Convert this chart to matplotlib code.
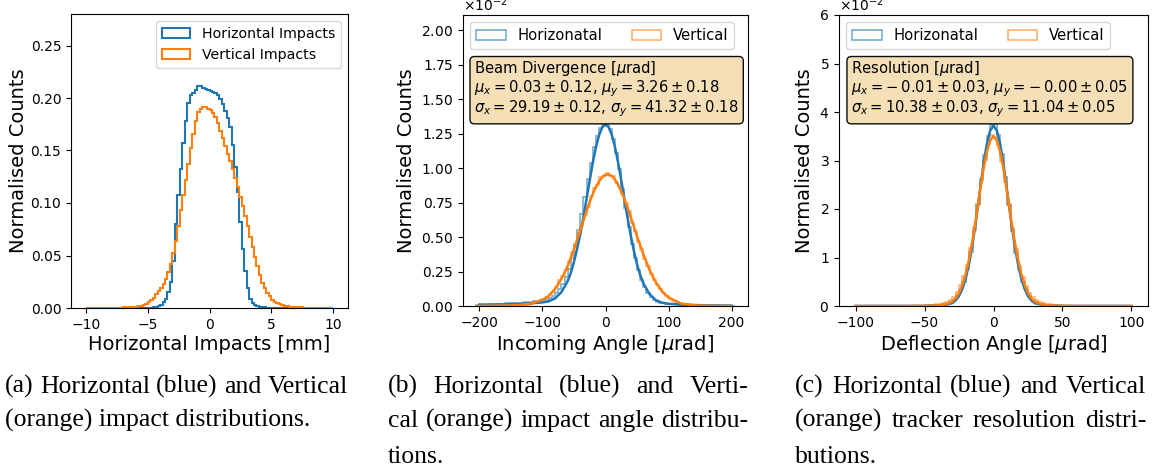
import numpy as np
import matplotlib
matplotlib.use("Agg")
import matplotlib.pyplot as plt

# ---- (a) impact distributions, density per 0.2 mm bin (centres -9.9 ... 9.9) ----
impact_edges = np.linspace(-10, 10, 101)
impact_h = [
    0, 0, 0, 0, 0, 0, 0, 0, 0, 0,                                                   # -9.9 .. -8.1
    0, 0, 0, 0, 0, 0, 0, 0, 0, 0,                                                   # -7.9 .. -6.1
    0, 0, 0, 0, 0, 0.0002, 0.0004, 0.0007, 0.001, 0.0016,                           # -5.9 .. -4.1
    0.003, 0.006, 0.009, 0.015, 0.025, 0.045, 0.080, 0.108, 0.132, 0.157,           # -3.9 .. -2.1
    0.178, 0.195, 0.203, 0.205, 0.208, 0.211, 0.211, 0.210, 0.209, 0.208,           # -1.9 .. -0.1
    0.207, 0.206, 0.205, 0.203, 0.199, 0.194, 0.188, 0.181, 0.172, 0.155,           # 0.1 .. 1.9
    0.134, 0.110, 0.082, 0.056, 0.035, 0.019, 0.009, 0.005, 0.003, 0.002,           # 2.1 .. 3.9
    0.0014, 0.001, 0.0007, 0.0004, 0.0002, 0, 0, 0, 0, 0,                           # 4.1 .. 5.9
    0, 0, 0, 0, 0, 0, 0, 0, 0, 0,                                                   # 6.1 .. 7.9
    0, 0, 0, 0, 0, 0, 0, 0, 0, 0,                                                   # 8.1 .. 9.9
]
impact_v = [
    0.0002, 0.0002, 0.0002, 0.0002, 0.0002, 0.0002, 0.0002, 0.0002, 0.0002, 0.0002,
    0.0003, 0.0003, 0.0003, 0.0004, 0.0004, 0.0005, 0.0005, 0.0006, 0.0008, 0.001,
    0.0012, 0.0015, 0.002, 0.0028, 0.004, 0.0055, 0.0075, 0.010, 0.013, 0.016,
    0.019, 0.023, 0.028, 0.034, 0.042, 0.052, 0.064, 0.078, 0.093, 0.108,
    0.122, 0.137, 0.152, 0.166, 0.178, 0.187, 0.190, 0.191, 0.191, 0.190,
    0.189, 0.186, 0.182, 0.176, 0.169, 0.162, 0.154, 0.147, 0.140, 0.132,
    0.124, 0.115, 0.106, 0.097, 0.088, 0.078, 0.068, 0.058, 0.049, 0.040,
    0.031, 0.024, 0.019, 0.014, 0.011, 0.008, 0.006, 0.0045, 0.0035, 0.0027,
    0.002, 0.0016, 0.0013, 0.001, 0.0008, 0.0006, 0.0005, 0.0005, 0.0004, 0.0004,
    0.0003, 0.0003, 0.0003, 0.0002, 0.0002, 0.0002, 0.0002, 0.0002, 0.0002, 0.0002,
]

# ---- (b) incoming angle, units of 1e-2 per 5 urad bin ----
angle_edges = np.linspace(-205, 205, 83)
angle_h = [
    0.010, 0.011, 0.012, 0.013, 0.014, 0.015, 0.016, 0.017, 0.018, 0.019,
    0.020, 0.021, 0.022, 0.024, 0.025, 0.027, 0.029, 0.031, 0.033, 0.035,
    0.038, 0.042, 0.048, 0.058, 0.072, 0.092, 0.120, 0.160, 0.210, 0.270,
    0.350, 0.440, 0.550, 0.670, 0.790, 0.920, 1.040, 1.150, 1.230, 1.290,
    1.320,
    1.310, 1.280, 1.210, 1.110, 0.990, 0.850, 0.710, 0.570, 0.450, 0.350,
    0.260, 0.190, 0.135, 0.095, 0.065, 0.045, 0.032, 0.024, 0.019, 0.016,
    0.014, 0.012, 0.011, 0.010, 0.009, 0.008, 0.007, 0.006, 0.006, 0.005,
    0.005, 0.004, 0.004, 0.004, 0.003, 0.003, 0.003, 0.002, 0.002, 0.002,
    0.002,
]
angle_v = [
    0.001, 0.001, 0.001, 0.001, 0.001, 0.001, 0.002, 0.002, 0.002, 0.002,
    0.003, 0.003, 0.004, 0.005, 0.006, 0.008, 0.010, 0.014, 0.019, 0.026,
    0.036, 0.052, 0.068, 0.085, 0.105, 0.141, 0.185, 0.220, 0.262, 0.324,
    0.392, 0.449, 0.527, 0.579, 0.663, 0.715, 0.800, 0.852, 0.880, 0.935,
    0.946,
    0.962, 0.945, 0.940, 0.890, 0.862, 0.815, 0.744, 0.690, 0.600, 0.545,
    0.462, 0.410, 0.342, 0.290, 0.230, 0.192, 0.150, 0.122, 0.091, 0.071,
    0.053, 0.039, 0.029, 0.021, 0.015, 0.011, 0.008, 0.006, 0.004, 0.003,
    0.003, 0.002, 0.002, 0.002, 0.001, 0.001, 0.001, 0.001, 0.001, 0.001,
    0.001,
]
angle_fit_x = [-200, -180, -160, -140, -120, -100, -90, -80, -70, -60,
               -55, -50, -45, -40, -35, -30, -25, -20, -15, -10, -5, 0,
               5, 10, 15, 20, 25, 30, 35, 40, 45, 50, 55, 60,
               70, 80, 90, 100, 120, 140, 160, 180, 200]
angle_fit_h = [0.008, 0.010, 0.012, 0.015, 0.019, 0.026, 0.034, 0.055, 0.100, 0.180,
               0.240, 0.320, 0.415, 0.520, 0.645, 0.778, 0.912, 1.043, 1.155, 1.242, 1.297, 1.316,
               1.297, 1.241, 1.153, 1.040, 0.911, 0.773, 0.638, 0.512, 0.399, 0.302, 0.225, 0.165,
               0.085, 0.042, 0.024, 0.016, 0.010, 0.007, 0.005, 0.004, 0.003]
angle_fit_v = [0.001, 0.002, 0.003, 0.006, 0.016, 0.045, 0.073, 0.125, 0.195, 0.290,
               0.350, 0.410, 0.480, 0.550, 0.620, 0.690, 0.755, 0.815, 0.865, 0.905, 0.935, 0.952,
               0.954, 0.943, 0.917, 0.880, 0.830, 0.775, 0.710, 0.645, 0.575, 0.505, 0.440, 0.375,
               0.260, 0.170, 0.105, 0.062, 0.018, 0.005, 0.002, 0.001, 0.0005]

# ---- (c) deflection angle, units of 1e-2 per 2.5 urad bin ----
defl_edges = np.linspace(-100, 100, 81)
defl_h = [
    0.0001, 0.0001, 0.0001, 0.0002, 0.0002, 0.0002, 0.0003, 0.0003, 0.0004, 0.0005,
    0.0006, 0.0008, 0.001, 0.0012, 0.0015, 0.002, 0.0025, 0.003, 0.004, 0.005,
    0.007, 0.009, 0.013, 0.018, 0.026, 0.036, 0.05, 0.08, 0.13, 0.21,
    0.33, 0.50, 0.76, 1.11, 1.57, 2.10, 2.62, 3.12, 3.50, 3.74,
    3.76, 3.53, 3.14, 2.65, 2.08, 1.55, 1.09, 0.74, 0.49, 0.32,
    0.20, 0.125, 0.078, 0.05, 0.034, 0.024, 0.017, 0.012, 0.009, 0.007,
    0.005, 0.004, 0.003, 0.0025, 0.002, 0.0015, 0.0012, 0.001, 0.0008, 0.0006,
    0.0005, 0.0004, 0.0003, 0.0003, 0.0002, 0.0002, 0.0002, 0.0001, 0.0001, 0.0001,
]
defl_v = [
    0.0003, 0.0003, 0.0004, 0.0004, 0.0005, 0.0006, 0.0007, 0.0008, 0.0009, 0.001,
    0.0013, 0.0016, 0.002, 0.0025, 0.003, 0.004, 0.005, 0.006, 0.008, 0.010,
    0.014, 0.019, 0.026, 0.035, 0.047, 0.065, 0.09, 0.13, 0.19, 0.28,
    0.43, 0.61, 0.85, 1.20, 1.63, 2.08, 2.58, 3.01, 3.34, 3.52,
    3.48, 3.31, 2.99, 2.56, 2.10, 1.61, 1.18, 0.83, 0.59, 0.41,
    0.27, 0.185, 0.125, 0.088, 0.063, 0.046, 0.034, 0.025, 0.018, 0.014,
    0.010, 0.008, 0.006, 0.005, 0.004, 0.003, 0.0025, 0.002, 0.0016, 0.0013,
    0.001, 0.0009, 0.0008, 0.0007, 0.0006, 0.0005, 0.0004, 0.0004, 0.0003, 0.0003,
]
defl_fit_x = [-100, -80, -60, -50, -40, -35, -30, -27.5, -25, -22.5, -20, -17.5, -15,
              -12.5, -10, -7.5, -5, -2.5, 0, 2.5, 5, 7.5, 10, 12.5, 15, 17.5, 20,
              22.5, 25, 27.5, 30, 35, 40, 50, 60, 80, 100]
defl_fit_h = [0.0001, 0.0003, 0.001, 0.003, 0.008, 0.02, 0.058, 0.113, 0.206, 0.357, 0.585, 0.902, 1.313,
              1.799, 2.344, 2.869, 3.314, 3.614, 3.72, 3.614, 3.314, 2.869, 2.344, 1.799, 1.313, 0.902, 0.585,
              0.357, 0.206, 0.113, 0.058, 0.02, 0.008, 0.003, 0.001, 0.0003, 0.0001]
defl_fit_v = [0.0002, 0.0005, 0.0015, 0.004, 0.012, 0.03, 0.087, 0.157, 0.270, 0.439, 0.678, 0.996, 1.39,
              1.84, 2.32, 2.78, 3.16, 3.41, 3.50, 3.41, 3.16, 2.78, 2.32, 1.84, 1.39, 0.996, 0.678,
              0.439, 0.270, 0.157, 0.087, 0.03, 0.012, 0.004, 0.0015, 0.0005, 0.0002]

angle_text = ("Beam Divergence [$\\mu$rad]\n"
              "$\\mu_x = 0.03 \\pm 0.12$, $\\mu_y = 3.26 \\pm 0.18$\n"
              "$\\sigma_x = 29.19 \\pm 0.12$, $\\sigma_y = 41.32 \\pm 0.18$")
defl_text = ("Resolution [$\\mu$rad]\n"
             "$\\mu_x = -\\:0.01 \\pm 0.03$, $\\mu_y = -\\:0.00 \\pm 0.05$\n"
             "$\\sigma_x = 10.38 \\pm 0.03$, $\\sigma_y = 11.04 \\pm 0.05$")

captions = [
    ["(a) Horizontal (blue) and Vertical", "(orange) impact distributions."],
    ["(b) Horizontal (blue) and Verti-", "cal (orange) impact angle distribu-", "tions."],
    ["(c) Horizontal (blue) and Vertical", "(orange) tracker resolution distri-", "butions."],
]

W, H = 1160, 472
fig = plt.figure(figsize=(W / 100, H / 100), dpi=100)


def px_axes(l, t, r, b):
    return fig.add_axes([l / W, 1 - b / H, (r - l) / W, (b - t) / H])


def step(ax, edges, vals, color, label, lw=1.5, alpha=1.0, scale=1.0):
    edges = np.asarray(edges)
    centers = 0.5 * (edges[1:] + edges[:-1])
    ax.hist(centers, bins=edges, weights=np.asarray(vals) * scale,
            histtype="step", color=color, lw=lw, alpha=alpha, label=label)


blue, orange = "#1f77b4", "#ff7f0e"

# (a)
ax1 = px_axes(71, 14, 348, 308)
step(ax1, impact_edges, impact_h, blue, "Horizontal Impacts")
step(ax1, impact_edges, impact_v, orange, "Vertical Impacts")
ax1.set_xlim(-11.2, 11.2)
ax1.set_ylim(0, 0.28)
ax1.set_yticks(np.arange(0, 0.26, 0.05))
ax1.set_xlabel("Horizontal Impacts [mm]", fontsize=14, labelpad=2)
ax1.set_ylabel("Normalised Counts", fontsize=14, labelpad=2)
ax1.legend(loc="upper right", fontsize=10.2)

# (b) and (c)
box = dict(boxstyle="round", facecolor="wheat", edgecolor="black", alpha=0.95)
panels = [
    (px_axes(463, 15, 748, 306), angle_edges, angle_h, angle_v, angle_fit_x,
     angle_fit_h, angle_fit_v, (-226, 226), 0.0211, "Incoming Angle [$\\mu$rad]", angle_text),
    (px_axes(839, 15, 1148, 306), defl_edges, defl_h, defl_v, defl_fit_x,
     defl_fit_h, defl_fit_v, (-112, 112), 0.06, "Deflection Angle [$\\mu$rad]", defl_text),
]
for ax, edges, hh, hv, fx, fh, fv, xl, ytop, xlabel, txt in panels:
    step(ax, edges, hh, blue, "Horizonatal", lw=1.2, alpha=0.6, scale=0.01)
    step(ax, edges, hv, orange, "Vertical", lw=1.2, alpha=0.6, scale=0.01)
    ax.plot(fx, np.asarray(fh) * 0.01, color=blue, lw=1.8)
    ax.plot(fx, np.asarray(fv) * 0.01, color=orange, lw=1.8)
    ax.set_xlim(*xl)
    ax.set_ylim(0, ytop)
    ax.ticklabel_format(axis="y", style="sci", scilimits=(-2, -2), useMathText=True)
    ax.set_xlabel(xlabel, fontsize=14, labelpad=2)
    ax.set_ylabel("Normalised Counts", fontsize=14)
    ax.legend(loc="upper left", ncol=2, fontsize=10.6)
    ax.text(0.04, 0.848, txt, transform=ax.transAxes, va="top", ha="left",
            fontsize=10.6, bbox=box, linespacing=1.0)

# captions, justified like the LaTeX source
cap_x = [(5, 348), (388, 748), (795, 1146)]
base_y = [393, 427, 463]
fig.canvas.draw()
renderer = fig.canvas.get_renderer()
for (x0, x1), lines in zip(cap_x, captions):
    for i, line in enumerate(lines):
        y = 1 - base_y[i] / H
        last = i == len(lines) - 1
        if last:
            fig.text(x0 / W, y, line, family="Liberation Serif", fontsize=18.5,
                     va="baseline", ha="left")
            continue
        words = line.split(" ")
        objs = [fig.text(0, y, w, family="Liberation Serif", fontsize=18.5,
                         va="baseline", ha="left") for w in words]
        widths = [o.get_window_extent(renderer).width for o in objs]
        gap = (x1 - x0 - sum(widths)) / (len(words) - 1)
        x = x0
        for o, w in zip(objs, widths):
            o.set_x(x / W)
            x += w + gap

fig.savefig("out.png", dpi=100)
